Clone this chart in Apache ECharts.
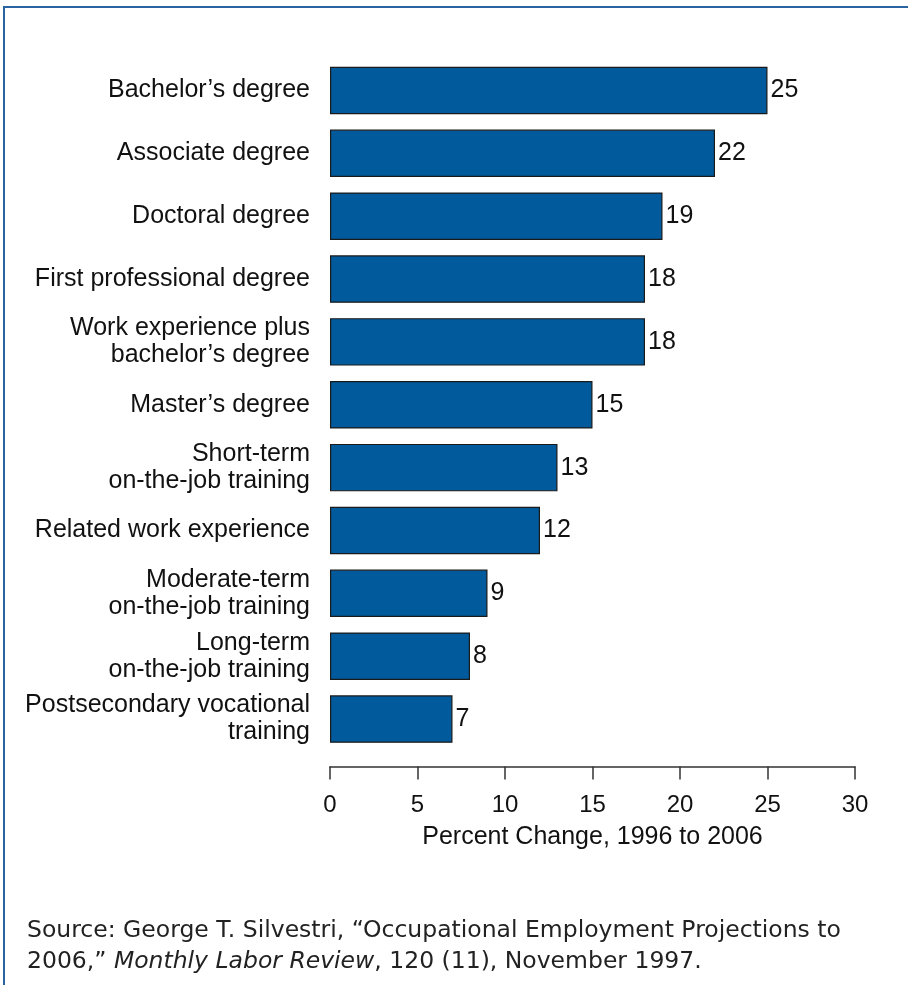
<!DOCTYPE html>
<html>
<head>
<meta charset="utf-8">
<script src="https://cdn.jsdelivr.net/npm/echarts@6/dist/echarts.min.js"></script>
<style>
  html, body { margin: 0; padding: 0; background: #fff; }
  #chart { width: 908px; height: 985px; }
</style>
</head>
<body>
<div id="chart"></div>
<script>
// Education / training categories, top to bottom
const categories = [
  'Bachelor\u2019s degree',
  'Associate degree',
  'Doctoral degree',
  'First professional degree',
  'Work experience plus\nbachelor\u2019s degree',
  'Master\u2019s degree',
  'Short-term\non-the-job training',
  'Related work experience',
  'Moderate-term\non-the-job training',
  'Long-term\non-the-job training',
  'Postsecondary vocational\ntraining'
];
// Percent change in employment, 1996 to 2006
const values = [25, 22, 19, 18, 18, 15, 13, 12, 9, 8, 7];
const xTicks = [0, 5, 10, 15, 20, 25, 30];

const chart = echarts.init(document.getElementById('chart'));
const labelFont = '"Liberation Sans", Arial, Helvetica, sans-serif';
const sourceFont = '"DejaVu Sans", sans-serif';

chart.setOption({
  animation: false,
  backgroundColor: '#fff',
  grid: { left: 330, right: 53, top: 59, height: 691.5, containLabel: false },
  xAxis: {
    type: 'value',
    min: xTicks[0],
    max: xTicks[xTicks.length - 1],
    interval: 5,
    offset: 16,
    name: 'Percent Change, 1996 to 2006',
    nameLocation: 'middle',
    nameGap: 58,
    nameTextStyle: { fontFamily: labelFont, fontSize: 25, color: '#111' },
    axisLine: { show: true, lineStyle: { color: '#333', width: 1.5 } },
    axisTick: { show: true, length: 13, lineStyle: { color: '#333', width: 1.5 } },
    axisLabel: { fontFamily: labelFont, fontSize: 24, color: '#111', margin: 27 },
    splitLine: { show: false }
  },
  yAxis: {
    type: 'category',
    inverse: true,
    data: categories,
    axisLine: { show: false },
    axisTick: { show: false },
    axisLabel: {
      fontFamily: labelFont, fontSize: 25, color: '#111',
      margin: 20, lineHeight: 27, align: 'right'
    }
  },
  series: [{
    type: 'bar',
    data: values,
    barCategoryGap: '24.5%',
    itemStyle: { color: '#005a9c', borderColor: '#1a1a1a', borderWidth: 1.2 },
    label: {
      show: true, position: 'right', distance: 3,
      fontFamily: labelFont, fontSize: 25, color: '#111'
    }
  }],
  graphic: [
    {
      type: 'polyline',
      shape: { points: [[4, 985], [4, 7], [908, 7]] },
      style: { stroke: '#2a64a0', lineWidth: 2, fill: null }
    },
    {
      type: 'text',
      left: 27,
      top: 915,
      style: {
        text: 'Source: George T. Silvestri, \u201cOccupational Employment Projections to\n2006,\u201d {i|Monthly Labor Review}, 120 (11), November 1997.',
        fontFamily: sourceFont,
        fontSize: 23.5,
        lineHeight: 31,
        fill: '#222',
        rich: {
          i: { fontFamily: sourceFont, fontSize: 23.5, fontStyle: 'italic', fill: '#222', lineHeight: 31 }
        }
      }
    }
  ]
});
</script>
</body>
</html>
